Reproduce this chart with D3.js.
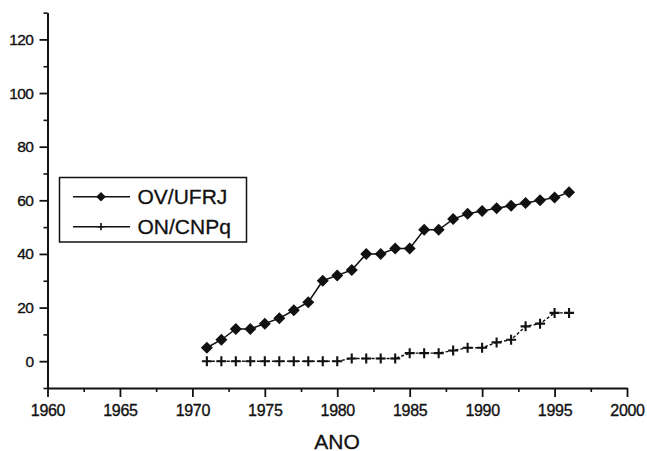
<!DOCTYPE html>
<html>
<head>
<meta charset="utf-8">
<script src="https://cdn.jsdelivr.net/npm/d3@7"></script>
<style>
  html, body { margin: 0; padding: 0; background: #fff; }
  svg { display: block; font-family: "Liberation Sans", Arial, sans-serif; }
</style>
</head>
<body>
<svg id="chart" width="647" height="451"></svg>
<script>
// Yearly counts for the two observatories
const years = d3.range(1971, 1997);
const ovUfrj = [5, 8, 12, 12, 14, 16, 19, 22, 30, 32, 34, 40, 40, 42, 42, 49, 49, 53, 55, 56, 57, 58, 59, 60, 61, 63];
const onCnpq = [0, 0, 0, 0, 0, 0, 0, 0, 0, 0, 1, 1, 1, 1, 3, 3, 3, 4, 5, 5, 7, 8, 13, 14, 18, 18];
const seriesNames = ["OV/UFRJ", "ON/CNPq"];
const xTicks = [1960, 1965, 1970, 1975, 1980, 1985, 1990, 1995, 2000];
const yTicks = [0, 20, 40, 60, 80, 100, 120];
const xTitle = "ANO";

const svg = d3.select("#chart");

const x = d3.scaleLinear().domain([1960, 2000]).range([47.5, 627]);
const y = d3.scaleLinear().domain([-10, 130]).range([388, 12.6]);

const ink = "#111";
const font = "'Liberation Sans', Arial, sans-serif";

// Minor ticks
svg.append("g")
  .attr("transform", `translate(0,${y(-10)})`)
  .call(d3.axisBottom(x).tickValues(d3.range(1962.5, 2000, 5)).tickSize(4).tickFormat(""))
  .call(g => g.select(".domain").remove())
  .call(g => g.selectAll("line").attr("stroke", ink).attr("stroke-width", 1.6));

svg.append("g")
  .attr("transform", `translate(${x(1960)},0)`)
  .call(d3.axisLeft(y).tickValues(d3.range(-10, 131, 20)).tickSize(4).tickFormat(""))
  .call(g => g.select(".domain").remove())
  .call(g => g.selectAll("line").attr("stroke", ink).attr("stroke-width", 1.6));

// Major axes
const xAxis = svg.append("g")
  .attr("transform", `translate(0,${y(-10)})`)
  .call(d3.axisBottom(x).tickValues(xTicks).tickFormat(d3.format("d")).tickSize(9).tickPadding(8).tickSizeOuter(0));
xAxis.select(".domain").attr("stroke", ink).attr("stroke-width", 2);
xAxis.selectAll("line").attr("stroke", ink).attr("stroke-width", 1.8);
xAxis.selectAll("text").attr("fill", ink).attr("font-size", 16)
  .attr("font-family", font).attr("letter-spacing", -0.3)
  .attr("stroke", ink).attr("stroke-width", 0.35);

const yAxis = svg.append("g")
  .attr("transform", `translate(${x(1960)},0)`)
  .call(d3.axisLeft(y).tickValues(yTicks).tickSize(8).tickPadding(6).tickSizeOuter(0));
yAxis.select(".domain").attr("stroke", ink).attr("stroke-width", 2);
yAxis.selectAll("line").attr("stroke", ink).attr("stroke-width", 1.8);
yAxis.selectAll("text").attr("fill", ink).attr("font-size", 15.5)
  .attr("font-family", font).attr("letter-spacing", -0.5)
  .attr("stroke", ink).attr("stroke-width", 0.35);

// Axis title
svg.append("text")
  .attr("x", 337).attr("y", 448.5)
  .attr("text-anchor", "middle")
  .attr("font-size", 21)
  .attr("fill", ink).attr("stroke", ink).attr("stroke-width", 0.3)
  .text(xTitle);

// Series lines
const lineGen = d3.line().x(d => x(d[0])).y(d => y(d[1]));
const ovData = years.map((yr, i) => [yr, ovUfrj[i]]);
const onData = years.map((yr, i) => [yr, onCnpq[i]]);

svg.append("path").datum(onData)
  .attr("d", lineGen).attr("fill", "none")
  .attr("stroke", ink).attr("stroke-width", 1.4).attr("stroke-dasharray", "3,2");

svg.append("path").datum(ovData)
  .attr("d", lineGen).attr("fill", "none")
  .attr("stroke", ink).attr("stroke-width", 1.5);

// Markers
const diamondPath = r => `M0,${-r}L${r},0L0,${r}L${-r},0Z`;
const plusPath = r => `M${-r},0H${r}M0,${-r}V${r}`;

svg.append("g").selectAll("path").data(ovData).join("path")
  .attr("transform", d => `translate(${x(d[0])},${y(d[1])})`)
  .attr("d", diamondPath(6))
  .attr("fill", ink);

svg.append("g").selectAll("path").data(onData).join("path")
  .attr("transform", d => `translate(${x(d[0])},${y(d[1])})`)
  .attr("d", plusPath(5))
  .attr("fill", "none").attr("stroke", ink).attr("stroke-width", 2.1);

// Legend
const legend = svg.append("g");
legend.append("rect")
  .attr("x", 59.5).attr("y", 177.5).attr("width", 187).attr("height", 64.5)
  .attr("fill", "#fff").attr("stroke", ink).attr("stroke-width", 1.5);

const rows = [
  { name: seriesNames[0], cy: 196.7, marker: diamondPath(4.8), fill: ink, stroke: "none" },
  { name: seriesNames[1], cy: 226.7, marker: plusPath(3.6), fill: "none", stroke: ink }
];
rows.forEach(r => {
  legend.append("line")
    .attr("x1", 73).attr("x2", 130).attr("y1", r.cy).attr("y2", r.cy)
    .attr("stroke", ink).attr("stroke-width", 1.4);
  legend.append("path")
    .attr("transform", `translate(101,${r.cy})`)
    .attr("d", r.marker)
    .attr("fill", r.fill).attr("stroke", r.stroke).attr("stroke-width", 1.6);
  legend.append("text")
    .attr("x", 137.5).attr("y", r.cy + 7.6)
    .attr("font-size", 21).attr("fill", ink)
    .attr("stroke", ink).attr("stroke-width", 0.3)
    .text(r.name);
});
</script>
</body>
</html>
